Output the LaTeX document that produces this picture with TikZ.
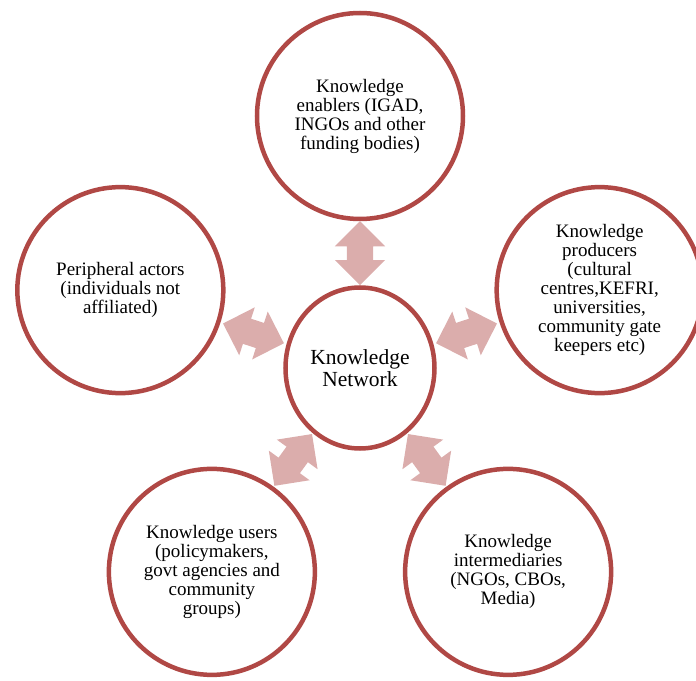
\documentclass[tikz,border=0pt]{standalone}
\usepackage{fontspec}
\setmainfont{Liberation Serif}
\usetikzlibrary{shapes.geometric, shapes.arrows, calc}

\definecolor{ringred}{RGB}{176,72,69}
\definecolor{linkpink}{RGB}{219,173,172}

\begin{document}
\begin{tikzpicture}[
  x=1pt, y=1pt,
  actor/.style={circle, draw=ringred, line width=4.5pt, minimum size=206pt,
    inner sep=0pt, align=center, font=\fontsize{19}{19}\selectfont},
  hub/.style={ellipse, draw=ringred, line width=4.5pt, minimum width=149pt,
    minimum height=161pt, inner sep=0pt, align=center,
    font=\fontsize{21.5}{22}\selectfont},
  link/.style={double arrow, fill=linkpink, draw=none, inner sep=13pt,
    minimum height=64pt, double arrow head extend=12pt,
    double arrow tip angle=90}
]
\useasboundingbox (-360,-312) rectangle (336,368);

\node[hub] (net) at (0,0) {Knowledge\\Network};

\node[actor] (enab) at (90:252) {Knowledge\\enablers (IGAD,\\INGOs and other\\funding bodies)};
\node[actor] (prod) at (18:252) {Knowledge\\producers\\(cultural\\centres,KEFRI,\\universities,\\community gate\\keepers etc)};
\node[actor] (peri) at (162:252) {Peripheral actors\\(individuals not\\affiliated)};
\node[actor] (user) at (234:252) {Knowledge users\\(policymakers,\\govt agencies and\\community\\groups)};
\node[actor] (inter) at (306:252) {Knowledge\\intermediaries\\(NGOs, CBOs,\\Media)};

% two-way links between the hub and each group
\node[link, rotate=90] (l-enab) at ($(net.90)!0.5!(enab.270)$) {};
\node[link, rotate=18] (l-prod) at ($(net.18)!0.5!(prod.198)$) {};
\node[link, rotate=162] (l-peri) at ($(net.162)!0.5!(peri.342)$) {};
\node[link, rotate=54] (l-user) at ($(net.234)!0.5!(user.54)$) {};
\node[link, rotate=126] (l-inter) at ($(net.306)!0.5!(inter.126)$) {};
\end{tikzpicture}
\end{document}
